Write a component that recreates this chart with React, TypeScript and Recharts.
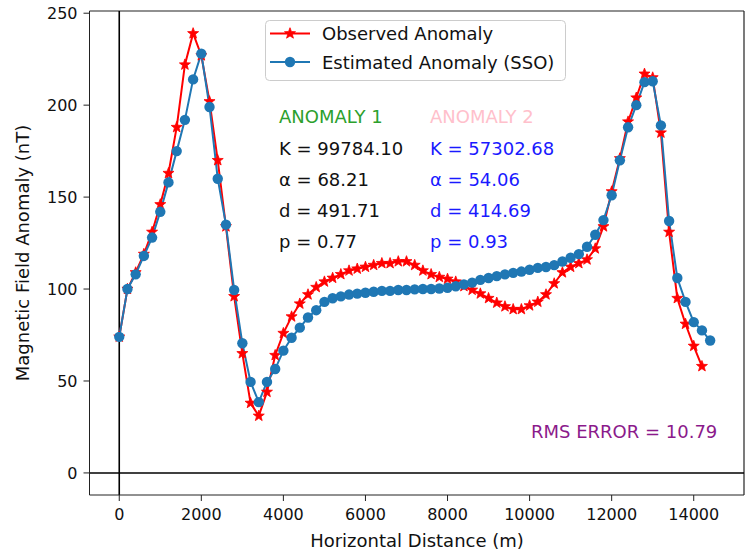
import React from 'react';
import { ComposedChart, Line, XAxis, YAxis, ReferenceLine, Customized } from 'recharts';

const distances = [
  0, 200, 400, 600, 800, 1000, 1200, 1400, 1600, 1800, 2000, 2200, 2400, 2600, 2800, 3000,
  3200, 3400, 3600, 3800, 4000, 4200, 4400, 4600, 4800, 5000, 5200, 5400, 5600, 5800, 6000,
  6200, 6400, 6600, 6800, 7000, 7200, 7400, 7600, 7800, 8000, 8200, 8400, 8600, 8800, 9000,
  9200, 9400, 9600, 9800, 10000, 10200, 10400, 10600, 10800, 11000, 11200, 11400, 11600,
  11800, 12000, 12200, 12400, 12600, 12800, 13000, 13200, 13400, 13600, 13800, 14000, 14200,
  14400,
];

const observed: (number | null)[] = [
  74, 100, 109, 119, 131, 146, 163, 188, 222, 239, 227, 202, 170, 134, 96, 65,
  38, 31, 44, 64, 76, 85, 92, 97, 101, 104, 106, 108, 110, 111, 112,
  113, 114, 114, 115, 115, 113, 110, 108, 106.5, 105.5, 104, 101.5, 99.5, 97.5, 95,
  92.5, 90.5, 89, 89, 91, 93, 97, 103, 109, 112, 114, 116, 122,
  134, 153, 171, 191, 204, 217, 215, 185, 131, 95, 81, 69, 58,
  null,
];

const estimated = [
  74, 100, 108, 118, 128, 142, 158, 175, 192, 214, 228, 199, 160, 135, 99.5, 70.5,
  49.5, 38.5, 49.5, 56.5, 66.5, 73.5, 79, 84.5, 88.5, 93, 95, 96, 97, 97.5, 98,
  98.5, 99, 99, 99.5, 99.5, 99.8, 100, 100, 100.3, 100.7, 101.5, 102.5, 103.5, 105, 106,
  107, 108, 108.8, 109.5, 110.5, 111.5, 112, 113, 115, 117, 119, 123, 129.5,
  137.5, 151, 170, 188, 200, 212.5, 213, 189, 137, 106, 93, 82, 77.5,
  72,
];

const xTicks = [0, 2000, 4000, 6000, 8000, 10000, 12000, 14000];
const yTicks = [0, 50, 100, 150, 200, 250];
const xDomain: [number, number] = [-725, 15225];
const yDomain: [number, number] = [-12, 251.2];

const anomaly1 = ['K = 99784.10', 'α = 68.21', 'd = 491.71', 'p = 0.77'];
const anomaly2 = ['K = 57302.68', 'α = 54.06', 'd = 414.69', 'p = 0.93'];
const rmsText = 'RMS ERROR = 10.79';

const data = distances.map((d, i) => ({ x: d, observed: observed[i], estimated: estimated[i] }));

const FONT = '"DejaVu Sans", Verdana, sans-serif';
const RED = '#ff0000';
const BLUE = '#1f77b4';
const SPINE = '#222';

function starPoints(cx: number, cy: number, ro: number, ri: number) {
  const pts: string[] = [];
  for (let k = 0; k < 10; k++) {
    const r = k % 2 === 0 ? ro : ri;
    const a = -Math.PI / 2 + (k * Math.PI) / 5;
    pts.push(`${cx + r * Math.cos(a)},${cy + r * Math.sin(a)}`);
  }
  return pts.join(' ');
}

const StarDot = (props: any) => {
  const { cx, cy, index } = props;
  if (cx == null || cy == null || props.value == null) return <g key={`s-${index}`} />;
  return <polygon key={`s-${index}`} points={starPoints(cx, cy, 5.8, 2.4)} fill={RED} stroke={RED} strokeWidth={0.8} strokeLinejoin="round" />;
};

const Overlay = () => (
  <g fontFamily={FONT}>
    {/* legend */}
    <rect x={265.5} y={20.5} width={300} height={60} rx={4} fill="#fff" fillOpacity={0.85} stroke="#cccccc" />
    <line x1={270} y1={33.5} x2={310} y2={33.5} stroke={RED} strokeWidth={2} />
    <polygon points={starPoints(290, 33.5, 5.8, 2.4)} fill={RED} stroke={RED} strokeWidth={0.8} />
    <text x={322} y={40} fontSize={18} fill="#111">Observed Anomaly</text>
    <line x1={270} y1={62} x2={310} y2={62} stroke={BLUE} strokeWidth={2} />
    <circle cx={290} cy={62} r={5.2} fill={BLUE} />
    <text x={322} y={68.5} fontSize={18} fill="#111">Estimated Anomaly (SSO)</text>

    {/* annotations */}
    <text x={279} y={123} fontSize={18} fill="#2ca02c">ANOMALY 1</text>
    {anomaly1.map((t, i) => (
      <text key={`a1-${i}`} x={279} y={155 + i * 31} fontSize={18} fill="#111">{t}</text>
    ))}
    <text x={430} y={123} fontSize={18} fill="#ffc0cb">ANOMALY 2</text>
    {anomaly2.map((t, i) => (
      <text key={`a2-${i}`} x={430} y={155 + i * 31} fontSize={18} fill="#1a1aff">{t}</text>
    ))}
    <text x={531} y={438} fontSize={18} fill="#8b1a8b">{rmsText}</text>

    {/* axis titles */}
    <text x={417} y={547} fontSize={18} fill="#111" textAnchor="middle">Horizontal Distance (m)</text>
    <text x={29} y={253} fontSize={18} fill="#111" textAnchor="middle" transform="rotate(-90 29 253)">
      Magnetic Field Anomaly (nT)
    </text>
  </g>
);

export default function App() {
  return (
    <div style={{ position: 'absolute', left: 0, top: 0, width: 754, height: 556, background: '#fff' }}>
      <ComposedChart width={754} height={556} data={data} margin={{ top: 11, right: 10, bottom: 0, left: 0 }}>
        <XAxis
          dataKey="x"
          type="number"
          domain={xDomain}
          ticks={xTicks}
          allowDataOverflow
          height={61}
          tickSize={6}
          tickMargin={8}
          interval={0}
          stroke={SPINE}
          tick={{ fill: '#111', fontSize: 16, fontFamily: FONT }}
        />
        <YAxis
          type="number"
          domain={yDomain}
          ticks={yTicks}
          allowDataOverflow
          width={89.5}
          tickSize={6}
          tickMargin={6}
          interval={0}
          stroke={SPINE}
          tick={{ fill: '#111', fontSize: 16, fontFamily: FONT }}
        />
        <ReferenceLine y={yDomain[1]} stroke={SPINE} strokeWidth={1.2} />
        <ReferenceLine x={xDomain[1]} stroke={SPINE} strokeWidth={1.2} />
        <ReferenceLine x={0} stroke="#000" strokeWidth={1.6} />
        <ReferenceLine y={0} stroke="#000" strokeWidth={1.6} />
        <Line
          dataKey="observed"
          stroke={RED}
          strokeWidth={2}
          dot={StarDot}
          activeDot={false}
          isAnimationActive={false}
        />
        <Line
          dataKey="estimated"
          stroke={BLUE}
          strokeWidth={2}
          dot={{ r: 5.2, fill: BLUE, stroke: BLUE, strokeWidth: 0 }}
          activeDot={false}
          isAnimationActive={false}
        />
        <Customized component={<Overlay />} />
      </ComposedChart>
    </div>
  );
}
